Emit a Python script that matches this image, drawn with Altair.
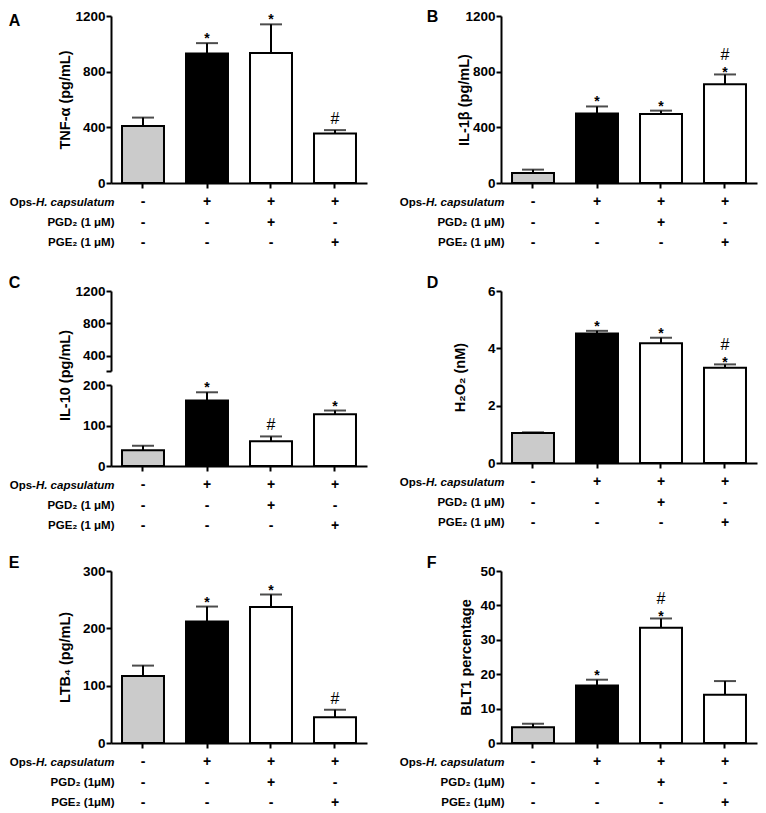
import altair as alt
import pandas as pd

FONT = "Liberation Sans"

# ---------------- data ----------------
GROUPS = ["ctrl", "ops", "ops_pgd2", "ops_pge2"]
FILLS = ["#cbcbcb", "#000000", "#ffffff", "#ffffff"]

ROW_KEYS = ["ops", "pgd2", "pge2"]
OPS_SIGNS = ["-", "+", "+", "+"]
PGD2_SIGNS = ["-", "-", "+", "-"]
PGE2_SIGNS = ["-", "-", "-", "+"]
LABELS_SPACED = ["H. capsulatum", "PGD₂ (1 μM)", "PGE₂ (1 μM)"]
LABELS_TIGHT = ["H. capsulatum", "PGD₂ (1μM)", "PGE₂ (1μM)"]

TNF_MEAN = [410, 930, 935, 355]
TNF_SEM = [60, 75, 205, 25]
TNF_SIG = ["", "*", "*", "#"]

IL1B_MEAN = [72, 500, 495, 710]
IL1B_SEM = [24, 50, 25, 70]
IL1B_SIG = ["", "*", "*", "*#"]

IL10_MEAN = [39, 162, 61, 128]
IL10_SEM = [11, 20, 12, 9]
IL10_SIG = ["", "*", "#", "*"]

H2O2_MEAN = [1.05, 4.52, 4.18, 3.32]
H2O2_SEM = [0.02, 0.09, 0.19, 0.12]
H2O2_SIG = ["", "*", "*", "*#"]

LTB4_MEAN = [117, 212, 237, 45]
LTB4_SEM = [18, 26, 22, 13]
LTB4_SIG = ["", "*", "*", "#"]

BLT1_MEAN = [4.6, 16.7, 33.5, 14.0]
BLT1_SEM = [1.0, 1.7, 2.7, 4.0]
BLT1_SIG = ["", "*", "*#", ""]

# ---------------- helpers ----------------
W = 256
XSCALE = alt.Scale(domain=GROUPS, paddingInner=0.344, paddingOuter=0.172)

XAXIS = alt.Axis(labels=False, title=None, ticks=True, tickSize=5, tickWidth=2,
                 tickColor="black", domainColor="black", domainWidth=2, grid=False)


def xenc(axis):
    return alt.X("g:N", sort=GROUPS, scale=XSCALE, axis=axis)


def yaxis(title, values, **kw):
    return alt.Axis(title=title, values=values, format="d", grid=False,
                    labelOverlap=False, labelFlush=False, tickCount=len(values),
                    domainColor="black",
                    domainWidth=2, tickColor="black", tickWidth=2, tickSize=5,
                    labelFont=FONT, labelFontSize=13.5, labelFontWeight="bold",
                    labelColor="black", labelPadding=1, titleFont=FONT,
                    titleFontSize=14.5, titleFontWeight="bold", titleColor="black", **kw)


def bar_frame(mean, sem, sig):
    return pd.DataFrame({"g": GROUPS, "mean": mean,
                         "top": [m + s for m, s in zip(mean, sem)],
                         "fill": FILLS, "sig": sig})


def bar_chart(mean, sem, sig, ydomain, axis, height, clip=False, xaxis=XAXIS,
              annotate=True):
    df = bar_frame(mean, sem, sig)
    base = alt.Chart(df)
    ysc = alt.Scale(domain=ydomain, nice=False, zero=False)
    bars = base.mark_bar(stroke="black", strokeWidth=2, clip=clip).encode(
        x=xenc(xaxis),
        y=alt.Y("mean:Q", scale=ysc, axis=axis),
        y2=alt.datum(0),
        fill=alt.Fill("fill:N", scale=None),
    )
    layers = [bars]
    if annotate:
        rule = base.mark_rule(color="black", strokeWidth=2, clip=clip).encode(
            x=xenc(xaxis), y=alt.Y("mean:Q", scale=ysc, axis=axis), y2="top:Q")
        cap = base.mark_tick(color="black", thickness=2, size=22, clip=clip).encode(
            x=xenc(xaxis), y=alt.Y("top:Q", scale=ysc, axis=axis))
        layers += [rule, cap]
        txt = dict(font=FONT, color="black", baseline="alphabetic", align="center")
        specs = [("*", "*", 0, 14, "bold"), ("*#", "*", 3, 14, "bold"),
                 ("#", "#", -6, 16, "normal"), ("*#", "#", -14, 16, "normal")]
        for key, sym, dy, fs, fw in specs:
            layers.append(
                base.transform_filter(alt.FieldEqualPredicate(field="sig", equal=key))
                .mark_text(text=sym, dy=dy, fontSize=fs, fontWeight=fw, **txt)
                .encode(x=xenc(xaxis), y=alt.Y("top:Q", scale=ysc, axis=axis))
            )
    return alt.layer(*layers).properties(width=W, height=height)


def table_chart(labels):
    recs = []
    for key, signs in zip(ROW_KEYS, [OPS_SIGNS, PGD2_SIGNS, PGE2_SIGNS]):
        for g, s in zip(GROUPS, signs):
            recs.append({"g": g, "row": key, "sign": s})
    df = pd.DataFrame(recs)
    expr = (f"datum.value == '{ROW_KEYS[0]}' ? '{labels[0]}' : "
            f"datum.value == '{ROW_KEYS[1]}' ? '{labels[1]}' : '{labels[2]}'")
    ysc = alt.Scale(type="point", domain=ROW_KEYS, padding=0.244)
    common = dict(title=None, domain=False, ticks=False, tickSize=0, orient="left",
                  labelFont=FONT, labelFontSize=11.5, labelFontWeight="bold",
                  labelColor="black", labelAlign="right", labelBaseline="middle",
                  grid=False)
    axis1 = alt.Axis(labelExpr=expr, labelPadding=-3,
                     labelFontStyle={"condition": {"test": f"datum.value == '{ROW_KEYS[0]}'",
                                                   "value": "italic"},
                                     "value": "normal"},
                     **common)
    axis2 = alt.Axis(labelExpr=f"datum.value == '{ROW_KEYS[0]}' ? 'Ops-' : ''",
                     labelPadding=75.6, **common)
    signs = alt.Chart(df).mark_text(font=FONT, fontSize=14, fontWeight="bold",
                                    color="black").encode(
        x=alt.X("g:N", sort=GROUPS, scale=XSCALE, axis=None),
        y=alt.Y("row:N", sort=ROW_KEYS, scale=ysc, axis=axis1),
        text="sign:N",
    )
    ghost = alt.Chart(df).mark_text(opacity=0).encode(
        x=alt.X("g:N", sort=GROUPS, scale=XSCALE, axis=None),
        y=alt.Y("row:N", sort=ROW_KEYS, scale=ysc, axis=axis2),
        text="sign:N",
    )
    return alt.layer(signs, ghost).resolve_axis(y="independent").properties(
        width=W, height=51)


def panel(letter, charts, dx, dy):
    return alt.vconcat(*charts, spacing=14, bounds="flush").properties(
        title=alt.TitleParams(letter, anchor="start", frame="bounds", dx=dx, dy=dy,
                              offset=0, font=FONT, fontSize=16, fontWeight="bold",
                              color="black"))


H1 = 167
pA = panel("A", [
    bar_chart(TNF_MEAN, TNF_SEM, TNF_SIG, [0, 1200],
              yaxis("TNF-α (pg/mL)", [0, 400, 800, 1200], titleX=-39), H1),
    table_chart(LABELS_SPACED)], 0, 20)

pB = panel("B", [
    bar_chart(IL1B_MEAN, IL1B_SEM, IL1B_SIG, [0, 1200],
              yaxis("IL-1β (pg/mL)", [0, 400, 800, 1200], titleX=-30), H1),
    table_chart(LABELS_SPACED)], 28, 16)

upperC = bar_chart(IL10_MEAN, IL10_SEM, IL10_SIG, [215, 1200],
                   yaxis(None, [215, 400, 800, 1200],
                         labelExpr="datum.value == 215 ? '' : datum.label"),
                   80, clip=True, xaxis=None, annotate=False)
lowerC = bar_chart(IL10_MEAN, IL10_SEM, IL10_SIG, [0, 200],
                   yaxis("IL-10 (pg/mL)", [0, 100, 200], titleX=-39, titleY=-10), 81)
pC = panel("C", [upperC, lowerC, table_chart(LABELS_SPACED)], 0, 7)

pD = panel("D", [
    bar_chart(H2O2_MEAN, H2O2_SEM, H2O2_SIG, [0, 6],
              yaxis("H₂O₂ (nM)", [0, 2, 4, 6], titleX=-34), 172),
    table_chart(LABELS_SPACED)], 28, 7)

pE = panel("E", [
    bar_chart(LTB4_MEAN, LTB4_SEM, LTB4_SIG, [0, 300],
              yaxis("LTB₄ (pg/mL)", [0, 100, 200, 300], titleX=-39), 172),
    table_chart(LABELS_TIGHT)], 0, 7)

pF = panel("F", [
    bar_chart(BLT1_MEAN, BLT1_SEM, BLT1_SIG, [0, 50],
              yaxis("BLT1 percentage", [0, 10, 20, 30, 40, 50], titleX=-28), 172),
    table_chart(LABELS_TIGHT)], 28, 7)

row1 = alt.hconcat(pA, pB, spacing=30)
row2 = alt.hconcat(pC, pD, spacing=30)
row3 = alt.hconcat(pE, pF, spacing=30)

chart = alt.vconcat(row1, alt.vconcat(row2, row3, spacing=20), spacing=23).properties(
    padding=0).configure_view(stroke="transparent").configure_axis(labelOverlap=False)

chart.save("out.html", embed_options={"renderer": "svg", "actions": False})
